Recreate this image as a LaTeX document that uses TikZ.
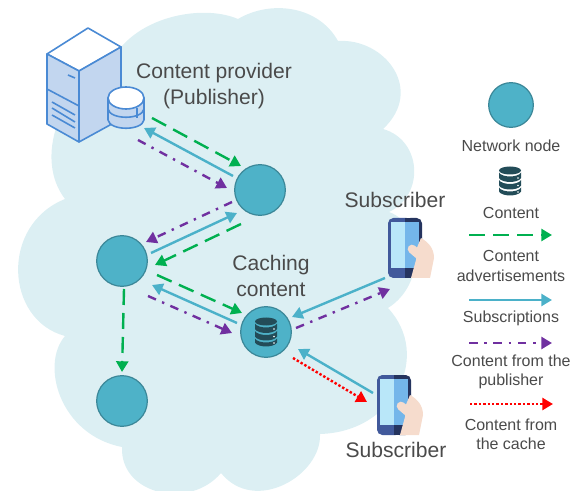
\documentclass[tikz,border=0pt]{standalone}
\usepackage{fontspec}
\setmainfont{Liberation Sans}
\usetikzlibrary{calc,arrows.meta}
\definecolor{cloudcol}{HTML}{DCEFF3}
\definecolor{nodecol}{HTML}{4EB2C8}
\definecolor{nodeedge}{HTML}{3B8798}
\definecolor{advcol}{HTML}{00B050}
\definecolor{subcol}{HTML}{4BB1C9}
\definecolor{pubcol}{HTML}{7030A0}
\definecolor{dbcol}{HTML}{234C58}
\definecolor{srvline}{HTML}{4A8AD4}
\definecolor{srvface}{HTML}{C2D6EF}
\definecolor{txtcol}{HTML}{4A4A4A}
\definecolor{skincol}{HTML}{F6DCCD}
\definecolor{phoneblue}{HTML}{41599B}
\definecolor{phonedark}{HTML}{25345F}
\definecolor{phonelight}{HTML}{B9E7F9}
\definecolor{phonemid}{HTML}{74B6EA}
\tikzset{
  netnode/.style={circle, draw=nodeedge, fill=nodecol, line width=0.9pt, inner sep=0pt, minimum size=38pt},
  biglabel/.style={font=\fontsize{15.8}{20}\selectfont, text=txtcol, align=center, inner sep=0pt},
  leglabel/.style={font=\fontsize{12}{14.5}\selectfont, text=txtcol, align=center, inner sep=0pt},
  advline/.style={advcol, line width=1.8pt, dash pattern=on 12pt off 6pt, -{Triangle[length=8pt,width=9pt]}},
  subline/.style={subcol, line width=1.8pt, -{Triangle[length=8pt,width=9pt]}},
  publine/.style={pubcol, line width=1.8pt, dash pattern=on 6.5pt off 5pt on 1.8pt off 5pt, -{Triangle[length=8pt,width=9pt]}},
  cacheline/.style={red, line width=1.8pt, dash pattern=on 1.8pt off 1.5pt, -{Triangle[length=8pt,width=9pt]}},
  srvedge/.style={draw=srvline, line width=1.2pt, line join=round},
  dbicon/.pic={
    \fill[dbcol] (0,-10.5) ellipse (11 and 4);
    \fill[dbcol] (-11,-8.5) .. controls (-8,-3.2) and (8,-3.2) .. (11,-8.5) -- (11,-3) .. controls (8,2.3) and (-8,2.3) .. (-11,-3) -- cycle;
    \fill[dbcol] (-11,-1) .. controls (-8,4.3) and (8,4.3) .. (11,-1) -- (11,4.5) .. controls (8,9.8) and (-8,9.8) .. (-11,4.5) -- cycle;
    \fill[dbcol] (-11,6.5) .. controls (-8,11.8) and (8,11.8) .. (11,6.5) -- (11,10.5) .. controls (8,15.8) and (-8,15.8) .. (-11,10.5) -- cycle;
    \fill[white] (8,-3) circle (0.9) (8,4.5) circle (0.9) (8,11) circle (0.9);
  },
  phonepic/.pic={
    \fill[phoneblue, rounded corners=4pt] (0,0) rectangle (24,60);
    \fill[phonedark, rounded corners=4pt] (17,0) rectangle (34,60);
    \fill[phonedark] (17,0) rectangle (24,60);
    \fill[phonelight] (3,4) rectangle (17,50);
    \fill[phonemid] (17,4) rectangle (31,50);
    \fill[skincol] (33,20) .. controls (40,24) and (46,30) .. (46,40) -- (42,60) -- (23,60) -- (28,42) -- (28,32) -- cycle;
    \draw[skincol, line width=6.5pt, line cap=round] (24,31) -- (31,37);
  }
}
\begin{document}
\begin{tikzpicture}[x=0.75pt, y=-0.75pt]
  \useasboundingbox (0,0) rectangle (574,491);
  % cloud
  \fill[cloudcol] (123,45) .. controls (150,15) and (205,5) .. (238,19)
    .. controls (270,0) and (318,5) .. (338,41)
    .. controls (385,38) and (425,90) .. (383,129)
    .. controls (422,140) and (425,195) .. (389,212)
    .. controls (425,225) and (425,285) .. (388,308)
    .. controls (432,355) and (395,432) .. (320,434)
    .. controls (322,475) and (255,515) .. (221,473)
    .. controls (190,510) and (120,495) .. (122,447)
    .. controls (60,435) and (40,365) .. (65,336)
    .. controls (5,320) and (0,225) .. (65,199)
    .. controls (35,160) and (55,90) .. (123,45) -- cycle;
  % server
  \filldraw[srvedge, fill=white] (47,54) -- (88,28) -- (121,47) -- (79,71) -- cycle;
  \filldraw[srvedge, fill=srvface] (47,54) -- (79,71) -- (79,142) -- (47,124) -- cycle;
  \filldraw[srvedge, fill=srvface] (79,71) -- (121,47) -- (121,105) -- (110,125) -- (79,142) -- cycle;
  \draw[srvedge] (47,89) -- (79,106);
  \draw[srvedge] (68,75) -- (75,78);
  \draw[srvedge] (52,102) -- (75,115);
  \draw[srvedge] (52,108) -- (75,122);
  \draw[srvedge] (52,115) -- (75,128);
  \node[inner sep=0pt] (srv) at (126,113) {};
  \filldraw[srvedge, fill=srvface] (108,98) -- (108,120) .. controls (110,131) and (142,131) .. (144,120) -- (144,98) -- cycle;
  \filldraw[srvedge, fill=white] (126,98) ellipse (18 and 11);
  \draw[srvedge] (108,109) .. controls (110,120) and (142,120) .. (144,109);
  \draw[srvedge] (137,108) -- (137,118);
  % nodes
  \node[netnode] (n1) at (260,190) {};
  \node[netnode] (n2) at (122,261) {};
  \node[netnode] (n3) at (266,332) {};
  \node[netnode] (n4) at (122,401) {};
  \pic at (266,332) {dbicon};
  % phones
  \pic at (388,218) {phonepic};
  \pic at (377,375) {phonepic};
  \node[inner sep=0pt] (phoneA) at (405,248) {};
  \node[inner sep=0pt] (phoneB) at (394,405) {};
  % labels
  \node[biglabel] (provider) at (214,86) {Content provider\\(Publisher)};
  \node[biglabel] (caching) at (271,276) {Caching\\content};
  \node[biglabel] (subA) at (395,200) {Subscriber};
  \node[biglabel] (subB) at (396,450) {Subscriber};
  % connectors
  \draw[advline] ([shift={(26,5)}]srv.center) -- ([shift={(-19,-24)}]n1.center);
  \draw[subline] ([shift={(-27,-14)}]n1.center) -- ([shift={(18,15)}]srv.center);
  \draw[publine] ([shift={(12,27)}]srv.center) -- ([shift={(-33,-2)}]n1.center);
  \draw[publine] ([shift={(-28,12)}]n1.center) -- ([shift={(24,-19)}]n2.center);
  \draw[subline] ([shift={(29,-8)}]n2.center) -- ([shift={(-23,23)}]n1.center);
  \draw[advline] ([shift={(-19,34)}]n1.center) -- ([shift={(33,4)}]n2.center);
  \draw[advline] ([shift={(35,14)}]n2.center) -- ([shift={(-24,-19)}]n3.center);
  \draw[subline] ([shift={(-29,-9)}]n3.center) -- ([shift={(30,24)}]n2.center);
  \draw[publine] ([shift={(26,35)}]n2.center) -- ([shift={(-34,1)}]n3.center);
  \draw[advline] ([shift={(2,28)}]n2.center) -- ([shift={(0,-29)}]n4.center);
  \draw[subline] ([shift={(-20,30)}]phoneA.center) -- ([shift={(26,-15)}]n3.center);
  \draw[publine] ([shift={(30,-4)}]n3.center) -- ([shift={(-15,41)}]phoneA.center);
  \draw[subline] ([shift={(-21,-12)}]phoneB.center) -- ([shift={(32,17)}]n3.center);
  \draw[cacheline] ([shift={(27,26)}]n3.center) -- ([shift={(-27,-3)}]phoneB.center);
  % legend
  \node[netnode, minimum size=33.5pt] (legnode) at (511,105) {};
  \node[leglabel] (legnodetxt) at (511,146) {Network node};
  \pic at (510,181) {dbicon};
  \node[leglabel] (legdbtxt) at (511,213) {Content};
  \coordinate (advA) at (469,235);
  \coordinate (advB) at (552,235);
  \draw[advline] (advA) -- (advB);
  \node[leglabel] (legadvtxt) at (511,266) {Content\\advertisements};
  \coordinate (subA) at (469,300);
  \coordinate (subB) at (552,300);
  \draw[subline] (subA) -- (subB);
  \node[leglabel] (legsubtxt) at (511,318) {Subscriptions};
  \coordinate (pubA) at (469,343);
  \coordinate (pubB) at (552,343);
  \draw[publine] (pubA) -- (pubB);
  \node[leglabel] (legpubtxt) at (511,372) {Content from the\\publisher};
  \coordinate (cacheA) at (470,404);
  \coordinate (cacheB) at (553,404);
  \draw[cacheline] (cacheA) -- (cacheB);
  \node[leglabel] (legcachetxt) at (511,434) {Content from\\the cache};
\end{tikzpicture}
\end{document}
